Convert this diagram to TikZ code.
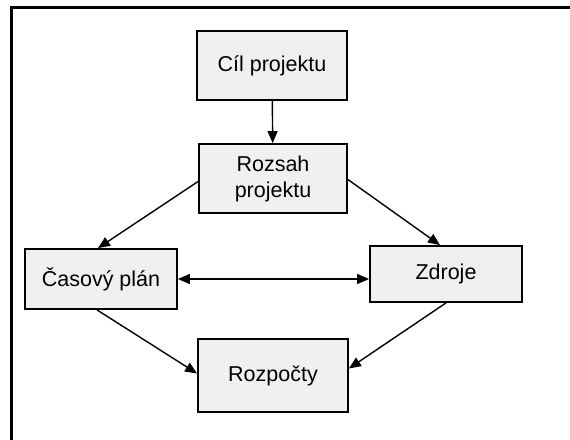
\documentclass[tikz,border=0pt]{standalone}
\usepackage{fontspec}
\setmainfont{Liberation Sans}
\usetikzlibrary{arrows.meta}
\begin{document}
\begin{tikzpicture}[x=1pt,y=-1pt,
  blok/.style={draw=black,line width=1.8pt,fill=black!6,inner sep=0pt,
    align=center,font=\fontsize{21.5}{26}\selectfont},
  sipka/.style={line width=1.4pt,-{Triangle[length=12pt,width=10pt]}},
  obe/.style={line width=1.4pt,{Triangle[length=12pt,width=10pt]}-{Triangle[length=12pt,width=10pt]}}]
\useasboundingbox (0,0) rectangle (570,439);
% frame lines along the top and left
\draw[line width=3pt] (11,441) -- (11,7) -- (572,7);
% boxes
\node[blok,minimum width=150pt,minimum height=69pt] (cil) at (272,65.5) {Cíl projektu};
\node[blok,minimum width=148pt,minimum height=69pt] (rozsah) at (273,178.5) {Rozsah\\projektu};
\node[blok,minimum width=152pt,minimum height=60pt] (casovy) at (101,279) {Časový plán};
\node[blok,minimum width=152pt,minimum height=56pt] (zdroje) at (446,274) {Zdroje};
\node[blok,minimum width=150pt,minimum height=73pt] (rozpocty) at (273,375.5) {Rozpočty};
% connectors
\draw[sipka] (cil) -- (rozsah);
\draw[sipka] ([yshift=-3pt]rozsah.west) -- ([xshift=-3pt]casovy.north);
\draw[sipka] ([yshift=-1pt]rozsah.east) -- ([xshift=-6pt]zdroje.north);
\draw[obe] (casovy.east) -- (casovy.east -| zdroje.west);
\draw[sipka] ([xshift=-4pt]casovy.south) -- ([yshift=2pt]rozpocty.west);
\draw[sipka] (zdroje.south) -- ([yshift=7pt]rozpocty.east);
\end{tikzpicture}
\end{document}
